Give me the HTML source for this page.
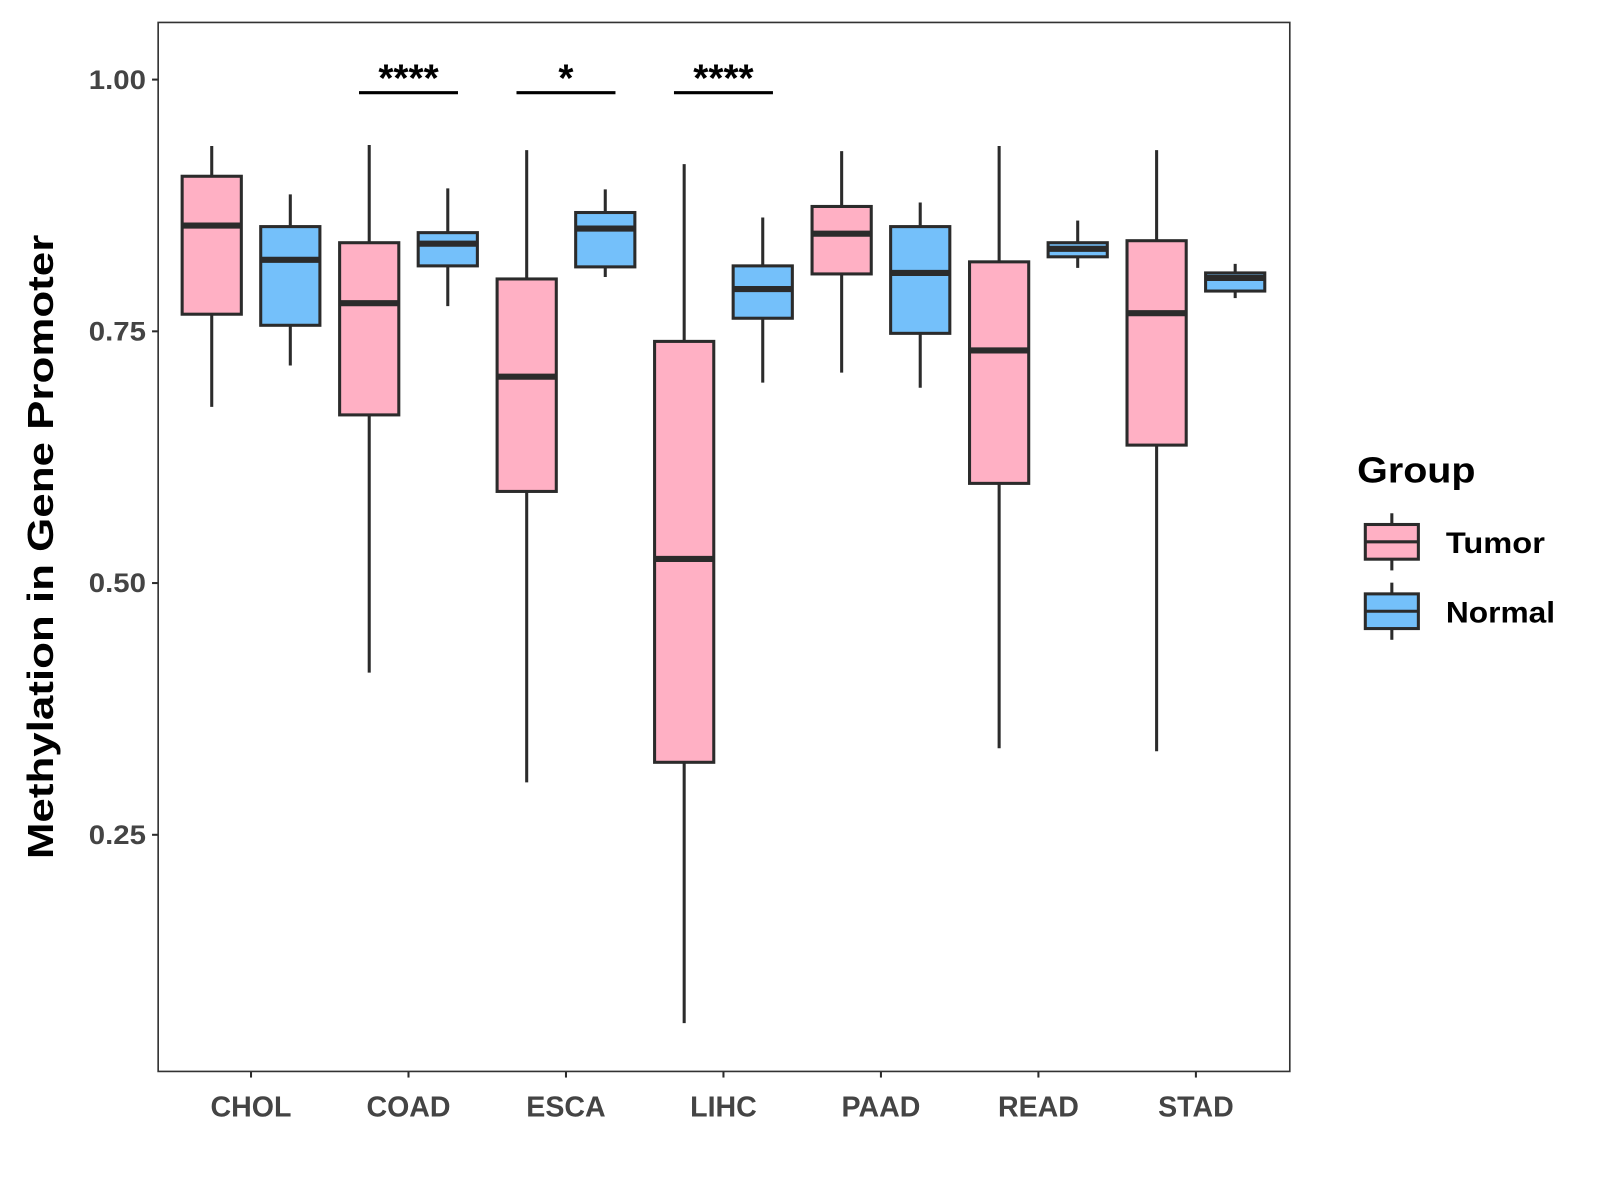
<!DOCTYPE html>
<html><head><meta charset="utf-8"><style>
html,body{margin:0;padding:0;background:#fff;}
svg{display:block;font-family:"Liberation Sans",Arial,sans-serif;}
</style></head><body>
<svg id="chart" width="1600" height="1200" viewBox="0 0 1568 1176" xmlns="http://www.w3.org/2000/svg">
<rect x="0" y="0" width="1568" height="1176" fill="#fff"/>
<g id="plot"></g>
<rect x="155" y="22" width="1109" height="1028" fill="none" stroke="#333" stroke-width="1.6"/>
<text x="52" y="536" transform="rotate(-90 52 536)" text-anchor="middle" font-size="35" font-weight="bold" fill="#000" textLength="612" lengthAdjust="spacingAndGlyphs">Methylation in Gene Promoter</text>
<g>
<text x="1330" y="473" font-size="35" font-weight="bold" fill="#000" textLength="116" lengthAdjust="spacingAndGlyphs">Group</text>
<g>
<line x1="1364" y1="503" x2="1364" y2="559" stroke="#2b2b2b" stroke-width="3"/>
<rect x="1338" y="514" width="52" height="34" fill="#FFB0C4" stroke="#2b2b2b" stroke-width="3"/>
<line x1="1338" y1="531" x2="1390" y2="531" stroke="#2b2b2b" stroke-width="3"/>
<text x="1417" y="542" font-size="29" font-weight="bold" fill="#000" textLength="97" lengthAdjust="spacingAndGlyphs">Tumor</text>
</g>
<g>
<line x1="1364" y1="571" x2="1364" y2="627" stroke="#2b2b2b" stroke-width="3"/>
<rect x="1338" y="582" width="52" height="34" fill="#74C0FA" stroke="#2b2b2b" stroke-width="3"/>
<line x1="1338" y1="599" x2="1390" y2="599" stroke="#2b2b2b" stroke-width="3"/>
<text x="1417" y="610" font-size="29" font-weight="bold" fill="#000" textLength="107" lengthAdjust="spacingAndGlyphs">Normal</text>
</g>
</g>
</svg>
<script>
const categories = ["CHOL","COAD","ESCA","LIHC","PAAD","READ","STAD"];
// [low, q1, median, q3, high]
const tumorStats = [
 [0.675,0.767,0.855,0.904,0.934],
 [0.411,0.667,0.778,0.838,0.935],
 [0.302,0.591,0.705,0.802,0.930],
 [0.063,0.322,0.524,0.740,0.916],
 [0.709,0.807,0.847,0.874,0.929],
 [0.336,0.599,0.731,0.819,0.934],
 [0.333,0.637,0.768,0.840,0.930]
];
const normalStats = [
 [0.716,0.756,0.821,0.854,0.886],
 [0.775,0.815,0.837,0.848,0.892],
 [0.804,0.814,0.852,0.868,0.891],
 [0.699,0.763,0.792,0.815,0.863],
 [0.694,0.748,0.808,0.854,0.878],
 [0.813,0.824,0.832,0.838,0.860],
 [0.783,0.790,0.803,0.808,0.817]
];
const yTicks = [0.25,0.50,0.75,1.00];
const yTickLabels = ["0.25","0.50","0.75","1.00"];
const sigCategories = ["COAD","ESCA","LIHC"];
const sigLabels = ["****","*","****"];
const sigLevel = 0.987;

const NS="http://www.w3.org/2000/svg";
const g=document.getElementById('plot');
function yS(v){return 78+(1-v)*986.8;}
function xS(i){return 246+i*154.33;}
function mk(t,a,p){const e=document.createElementNS(NS,t);for(const k in a)e.setAttribute(k,a[k]);(p||g).appendChild(e);return e;}
const C="#2b2b2b";
yTicks.forEach((t,i)=>{
  const l=mk('line',{x1:149,x2:155,y1:yS(t),y2:yS(t),stroke:C,'stroke-width':2});
  
  
  const tx=mk('text',{x:143,y:yS(t)+9,'text-anchor':'end','font-size':26,'font-weight':'bold',fill:'#444',textLength:56,lengthAdjust:'spacingAndGlyphs'});
  tx.textContent=yTickLabels[i];
  
  
});
categories.forEach((c,i)=>{
  const l=mk('line',{x1:xS(i),x2:xS(i),y1:1050,y2:1056,stroke:C,'stroke-width':2});
  
  
  const tx=mk('text',{x:xS(i),y:1094,'text-anchor':'middle','font-size':28,'font-weight':'bold',fill:'#444'});
  tx.textContent=c;
  
  
});
function box(s,cx,fill,name){
  const gg=mk('g',{});
  
  
  const w=58;
  mk('line',{x1:cx,x2:cx,y1:yS(s[0]),y2:yS(s[4]),stroke:C,'stroke-width':3},gg);
  mk('rect',{x:cx-w/2,y:yS(s[3]),width:w,height:yS(s[1])-yS(s[3]),fill:fill,stroke:C,'stroke-width':3},gg);
  mk('line',{x1:cx-w/2,x2:cx+w/2,y1:yS(s[2]),y2:yS(s[2]),stroke:C,'stroke-width':6},gg);
}
categories.forEach((c,i)=>{
  box(tumorStats[i],xS(i)-38.5,'#FFB0C4','box-tumor-'+c.toLowerCase());
  box(normalStats[i],xS(i)+38.5,'#74C0FA','box-normal-'+c.toLowerCase());
});
sigCategories.forEach((c,k)=>{
  const i=categories.indexOf(c);
  const l=mk('line',{x1:xS(i)-48.5,x2:xS(i)+48.5,y1:yS(sigLevel),y2:yS(sigLevel),stroke:'#000','stroke-width':3});
  
  
  const tx=mk('text',{x:xS(i),y:yS(sigLevel)-1,'text-anchor':'middle','font-size':38,'font-weight':'bold',fill:'#000'});
  tx.textContent=sigLabels[k];
  
  
});
</script>
</body></html>
